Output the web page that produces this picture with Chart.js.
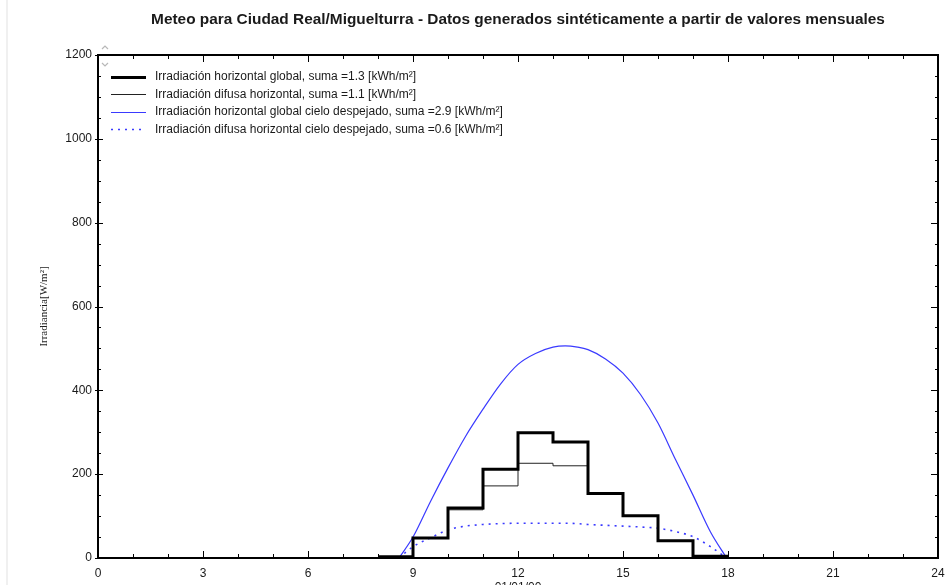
<!DOCTYPE html>
<html><head><meta charset="utf-8">
<script src="https://cdn.jsdelivr.net/npm/chart.js@4.4.0/dist/chart.umd.min.js"></script>
<style>html,body{margin:0;padding:0;overflow:hidden;background:#fff;width:946px;height:585px}canvas{display:block}</style>
</head><body>
<canvas id="c" width="946" height="600"></canvas>
<script>
const titleText = 'Meteo para Ciudad Real/Miguelturra - Datos generados sintéticamente a partir de valores mensuales';
const yAxisTitle = 'Irradiancia[W/m²]';
const xAxisTitle = '01/01/00';
const seriesLabels = [
  'Irradiación horizontal global, suma =1.3 [kWh/m²]',
  'Irradiación difusa horizontal, suma =1.1 [kWh/m²]',
  'Irradiación horizontal global cielo despejado, suma =2.9 [kWh/m²]',
  'Irradiación difusa horizontal cielo despejado, suma =0.6 [kWh/m²]'
];
// hourly bins: value at hour h holds over [h, h+1]
const stepHours = [8, 9, 10, 11, 12, 13, 14, 15, 16, 17, 18];
const globalHorizontal = [3, 48, 119, 212, 299, 277, 154, 101, 41, 4, 4];
const diffuseHorizontal = [3, 48, 115, 172, 226, 220, 154, 101, 41, 4, 4];
const clearHours = [8.6, 9, 9.5, 10, 10.5, 11, 11.5, 12, 12.5, 13, 13.35, 13.7, 14, 14.5, 15, 15.5, 16, 16.5, 17, 17.5, 17.96];
const clearGlobal = [0, 50, 135, 215, 290, 355, 415, 462, 488, 503, 506, 503, 497, 475, 441, 390, 322, 235, 150, 62, 0];
const clearDiffuse = [0, 27, 48, 67, 76, 80, 82, 83, 83, 83, 83, 82, 80, 78, 76, 74, 71, 63, 51, 27, 0];
const xMin = 0, xMax = 24, xMajor = 3, xMinor = 1;
const yMin = 0, yMax = 1200, yMajor = 200, yMinor = 50;

const pts = (xs, ys) => xs.map((x, i) => ({x: x, y: ys[i]}));
const BLUE = '#3a3aff';
const FONT = "'Liberation Sans', Arial, sans-serif";
const TXT = '#1a1a1a';

const deco = {
  id: 'deco',
  beforeDraw(chart) {
    const ctx = chart.ctx;
    ctx.save();
    ctx.fillStyle = '#f0f0f0';
    ctx.fillRect(6, 0, 2, 600);
    ctx.restore();
  },
  afterDraw(chart) {
    const ctx = chart.ctx, a = chart.chartArea;
    const xs = chart.scales.x, ys = chart.scales.y;
    ctx.save();
    // title centred over the plot area
    ctx.fillStyle = TXT;
    ctx.font = 'bold 15.4px ' + FONT;
    ctx.textAlign = 'center';
    ctx.textBaseline = 'middle';
    ctx.fillText(titleText, (a.left + a.right) / 2, 20);
    ctx.strokeStyle = '#000';
    ctx.lineWidth = 1;
    ctx.beginPath();
    for (let v = xMin; v <= xMax; v += xMinor) {
      const px = Math.round(xs.getPixelForValue(v)) + 0.5;
      const len = (v % xMajor === 0) ? 7 : 4;
      ctx.moveTo(px, a.bottom); ctx.lineTo(px, a.bottom - len);
      ctx.moveTo(px, a.top); ctx.lineTo(px, a.top + len);
    }
    for (let v = yMin; v <= yMax; v += yMinor) {
      const py = Math.round(ys.getPixelForValue(v)) + 0.5;
      const maj = (v % yMajor === 0);
      ctx.moveTo(a.left - (maj ? 3 : 0), py); ctx.lineTo(a.left + (maj ? 5 : 3), py);
      ctx.moveTo(a.right, py); ctx.lineTo(a.right - (maj ? 7 : 3), py);
    }
    ctx.stroke();
    ctx.lineWidth = 2;
    ctx.strokeRect(a.left, a.top, a.right - a.left, a.bottom - a.top);
    // legend
    ctx.font = '12px ' + FONT;
    ctx.textBaseline = 'middle';
    ctx.textAlign = 'left';
    chart.data.datasets.forEach((ds, i) => {
      const y = 76.8 + i * 17.5;
      ctx.beginPath();
      ctx.strokeStyle = ds.borderColor;
      ctx.lineWidth = ds.borderWidth;
      ctx.setLineDash(ds.borderDash || []);
      ctx.moveTo(111, Math.round(y) + 0.5);
      ctx.lineTo(146, Math.round(y) + 0.5);
      ctx.stroke();
      ctx.setLineDash([]);
      ctx.fillStyle = TXT;
      ctx.fillText(ds.label, 155, y);
    });
    // scroll arrows
    ctx.strokeStyle = '#b8b8b8';
    ctx.lineWidth = 1.2;
    ctx.beginPath();
    ctx.moveTo(102, 49); ctx.lineTo(105, 46); ctx.lineTo(108, 49);
    ctx.moveTo(102, 63); ctx.lineTo(105, 66); ctx.lineTo(108, 63);
    ctx.stroke();
    ctx.restore();
  }
};

new Chart(document.getElementById('c'), {
  type: 'line',
  data: {
    datasets: [
      {label: seriesLabels[0], data: pts(stepHours, globalHorizontal), stepped: true, borderColor: '#000', borderWidth: 3, pointRadius: 0, fill: false},
      {label: seriesLabels[1], data: pts(stepHours, diffuseHorizontal), stepped: true, borderColor: '#222', borderWidth: 1, pointRadius: 0, fill: false},
      {label: seriesLabels[2], data: pts(clearHours, clearGlobal), borderColor: BLUE, borderWidth: 1.2, pointRadius: 0, cubicInterpolationMode: 'monotone', fill: false},
      {label: seriesLabels[3], data: pts(clearHours, clearDiffuse), borderColor: BLUE, borderWidth: 1.6, borderDash: [2, 5], pointRadius: 0, cubicInterpolationMode: 'monotone', fill: false}
    ]
  },
  options: {
    responsive: false,
    animation: false,
    layout: {padding: {left: 0, right: 8, top: 55, bottom: 0}},
    plugins: {
      legend: {display: false},
      tooltip: {enabled: false},
      title: {display: false}
    },
    scales: {
      x: {
        type: 'linear', min: xMin, max: xMax,
        grid: {display: false, drawTicks: false},
        border: {display: false},
        ticks: {stepSize: xMajor, color: TXT, font: {family: FONT, size: 12}, padding: 8, maxRotation: 0, autoSkip: false, callback: v => String(v)},
        title: {display: true, text: xAxisTitle, color: TXT, font: {family: FONT, size: 12}, padding: {top: 0, bottom: 5}},
        afterFit(s) { s.height = 42; s.paddingLeft = 0; s.paddingRight = 0; }
      },
      y: {
        type: 'linear', min: yMin, max: yMax,
        grid: {display: false, drawTicks: false},
        border: {display: false},
        ticks: {stepSize: yMajor, color: TXT, font: {family: FONT, size: 12}, padding: 6, callback: v => String(v)},
        title: {display: true, text: yAxisTitle, color: TXT, font: {family: "'Liberation Serif', 'Times New Roman', serif", size: 11}, padding: {top: 38, bottom: 0}},
        afterFit(s) { s.width = 98; s.paddingTop = 0; s.paddingBottom = 0; }
      }
    }
  },
  plugins: [deco]
});
</script>
</body></html>
